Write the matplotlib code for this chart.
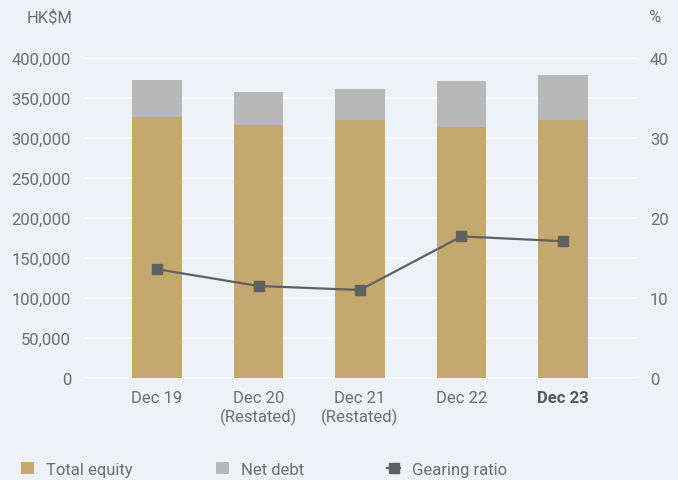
import matplotlib.pyplot as plt
from matplotlib.lines import Line2D
from matplotlib.patches import Patch
import numpy as np

years = ['Dec 19', 'Dec 20\n(Restated)', 'Dec 21\n(Restated)', 'Dec 22', 'Dec 23']
total_equity = [326000, 316000, 322500, 314000, 322500]
net_debt = [46500, 41500, 38500, 57000, 56500]
gearing_ratio = [13.6, 11.5, 11.0, 17.7, 17.1]

bg = '#edf2f6'
gold = '#c4a96e'
grey = '#b8b8b8'
line_col = '#5f6062'
txt = '#6d6e70'

plt.rcParams['font.family'] = ['Roboto', 'DejaVu Sans']

fig = plt.figure(figsize=(6.78, 4.81), dpi=100, facecolor=bg)
ax = fig.add_axes([85 / 678, 1 - 379 / 481, 551 / 678, 320 / 481])
ax.set_facecolor(bg)

x = np.arange(len(years))
ax.bar(x, total_equity, width=0.49, color=gold, zorder=2)
ax.bar(x, net_debt, width=0.49, bottom=total_equity, color=grey, zorder=2)

ax.set_xlim(-0.71, 4.72)
ax.set_ylim(0, 400000)
ax.set_yticks(np.arange(0, 400001, 50000))
ax.set_yticklabels([f'{v:,}' for v in range(0, 400001, 50000)])
ax.grid(axis='y', color='white', linewidth=1.2)
ax.set_axisbelow(True)
for s in ax.spines.values():
    s.set_visible(False)
ax.tick_params(axis='both', length=0, colors=txt, labelsize=12)
ax.tick_params(axis='y', pad=10)
ax.tick_params(axis='x', pad=9)
ax.set_xticks(x)
ax.set_xticklabels(years, linespacing=1.2)
lbls = ax.get_xticklabels()
lbls[-1].set_fontweight('bold')
lbls[-1].set_color('#58595b')

ax2 = ax.twinx()
ax2.set_ylim(0, 40)
ax2.set_yticks([0, 10, 20, 30, 40])
for s in ax2.spines.values():
    s.set_visible(False)
ax2.tick_params(axis='y', length=0, colors=txt, labelsize=12, pad=10)
ax2.plot(x, gearing_ratio, color=line_col, linewidth=1.6, marker='s', markersize=6.5, zorder=3)

fig.text(72 / 678, 1 - 18 / 481, 'HK$M', ha='right', va='center', color=txt, fontsize=12)
fig.text(648 / 678, 1 - 18 / 481, '%', ha='left', va='center', color=txt, fontsize=12)

handles = [Patch(facecolor=gold, label='Total equity'),
           Patch(facecolor=grey, label='Net debt'),
           Line2D([0], [0], color=line_col, linewidth=1.6, marker='s', markersize=6.5, label='Gearing ratio')]
fig.legend(handles=handles, loc='upper left', bbox_to_anchor=(14 / 678, 1 - 456 / 481), ncol=3,
           frameon=False, fontsize=12, labelcolor=txt, handlelength=0.8, handleheight=0.8,
           handletextpad=0.7, columnspacing=5.0, borderaxespad=0)

fig.savefig('out.png', dpi=100, facecolor=bg)
